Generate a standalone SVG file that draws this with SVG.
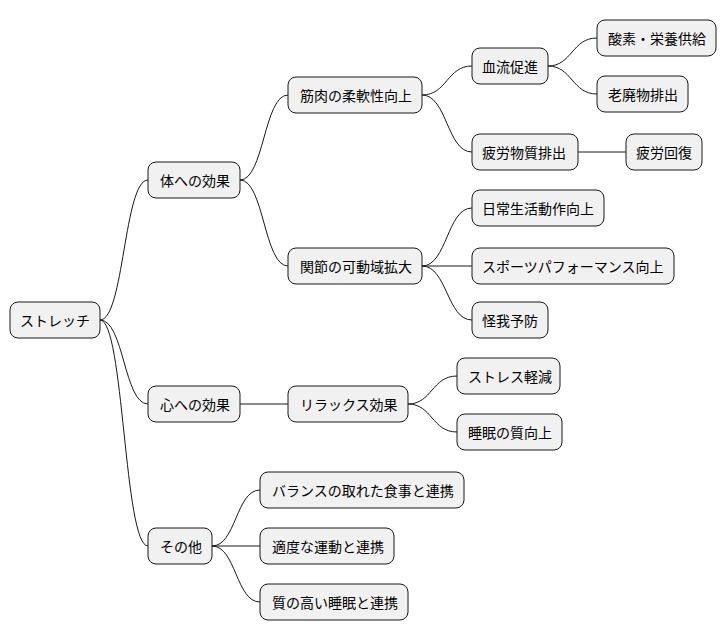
<svg xmlns="http://www.w3.org/2000/svg" width="726" height="640" viewBox="0 0 726 640">
<style>
.n rect{fill:#F1F1F1;stroke:#181818;stroke-width:1}
.n text{font-family:"Noto Sans CJK JP","Liberation Sans",sans-serif;font-size:14px;fill:#000;dominant-baseline:central}
.c path{fill:none;stroke:#181818;stroke-width:1}
</style>
<rect width="726" height="640" fill="#fff"/>
<g class="c">
<path d="M100,320 C124,320 124,180 148,180"/>
<path d="M100,320 C124,320 124,404 148,404"/>
<path d="M100,320 C124,320 124,546 148,546"/>
<path d="M240,180 C264,180 264,95 288,95"/>
<path d="M240,180 C264,180 264,266 288,266"/>
<path d="M422,95 C447,95 447,66 472,66"/>
<path d="M422,95 C447,95 447,152 472,152"/>
<path d="M548,66 C572,66 572,38 597,38"/>
<path d="M548,66 C572,66 572,94 597,94"/>
<path d="M578,152 L626,152"/>
<path d="M422,266 C447,266 447,208 472,208"/>
<path d="M422,266 L472,266"/>
<path d="M422,266 C447,266 447,320 472,320"/>
<path d="M240,404 L288,404"/>
<path d="M408,404 C432,404 432,376 457,376"/>
<path d="M408,404 C432,404 432,432 457,432"/>
<path d="M212,546 C236,546 236,490 260,490"/>
<path d="M212,546 L260,546"/>
<path d="M212,546 C236,546 236,602 260,602"/>
</g>
<g id="n0" class="n"><rect x="10" y="302" width="90" height="36" rx="8"/><text x="20" y="320">ストレッチ</text></g>
<g id="n1" class="n"><rect x="148" y="162" width="92" height="36" rx="8"/><text x="160" y="180">体への効果</text></g>
<g id="n2" class="n"><rect x="288" y="77" width="134" height="36" rx="8"/><text x="300" y="95">筋肉の柔軟性向上</text></g>
<g id="n3" class="n"><rect x="472" y="48" width="76" height="36" rx="8"/><text x="482" y="66">血流促進</text></g>
<g id="n4" class="n"><rect x="597" y="20" width="119" height="36" rx="8"/><text x="608" y="38">酸素・栄養供給</text></g>
<g id="n5" class="n"><rect x="597" y="76" width="91" height="36" rx="8"/><text x="608" y="94">老廃物排出</text></g>
<g id="n6" class="n"><rect x="472" y="134" width="106" height="36" rx="8"/><text x="482" y="152">疲労物質排出</text></g>
<g id="n7" class="n"><rect x="626" y="134" width="76" height="36" rx="8"/><text x="636" y="152">疲労回復</text></g>
<g id="n8" class="n"><rect x="288" y="248" width="134" height="36" rx="8"/><text x="300" y="266">関節の可動域拡大</text></g>
<g id="n9" class="n"><rect x="472" y="190" width="132" height="36" rx="8"/><text x="482" y="208">日常生活動作向上</text></g>
<g id="n10" class="n"><rect x="472" y="248" width="202" height="36" rx="8"/><text x="482" y="266">スポーツパフォーマンス向上</text></g>
<g id="n11" class="n"><rect x="472" y="302" width="76" height="36" rx="8"/><text x="482" y="320">怪我予防</text></g>
<g id="n12" class="n"><rect x="148" y="386" width="92" height="36" rx="8"/><text x="160" y="404">心への効果</text></g>
<g id="n13" class="n"><rect x="288" y="386" width="120" height="36" rx="8"/><text x="300" y="404">リラックス効果</text></g>
<g id="n14" class="n"><rect x="457" y="358" width="103" height="36" rx="8"/><text x="468" y="376">ストレス軽減</text></g>
<g id="n15" class="n"><rect x="457" y="414" width="105" height="36" rx="8"/><text x="468" y="432">睡眠の質向上</text></g>
<g id="n16" class="n"><rect x="148" y="528" width="64" height="36" rx="8"/><text x="160" y="546">その他</text></g>
<g id="n17" class="n"><rect x="260" y="472" width="204" height="36" rx="8"/><text x="272" y="490">バランスの取れた食事と連携</text></g>
<g id="n18" class="n"><rect x="260" y="528" width="134" height="36" rx="8"/><text x="272" y="546">適度な運動と連携</text></g>
<g id="n19" class="n"><rect x="260" y="584" width="148" height="36" rx="8"/><text x="272" y="602">質の高い睡眠と連携</text></g>
</svg>
